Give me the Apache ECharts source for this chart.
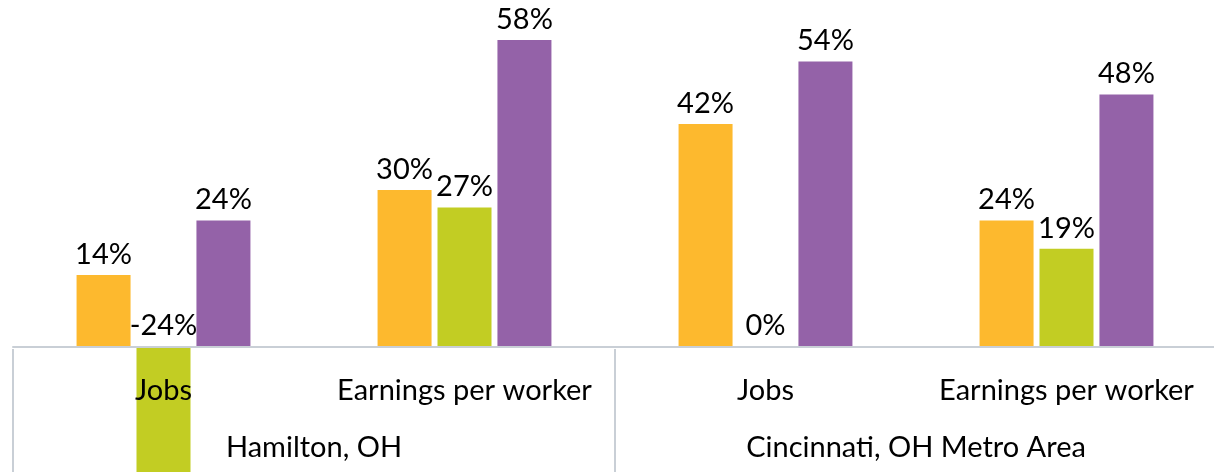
<!DOCTYPE html>
<html>
<head>
<meta charset="utf-8">
<script src="https://cdn.jsdelivr.net/npm/echarts@6/dist/echarts.min.js"></script>
<style>
  html, body { margin: 0; padding: 0; background: #fff; }
  #main { width: 1214px; height: 472px; }
</style>
</head>
<body>
<div id="main"></div>
<script>
// categories (two levels)
var measures = ['Jobs', 'Earnings per worker', 'Jobs', 'Earnings per worker'];
var areas = ['Hamilton, OH', 'Cincinnati, OH Metro Area'];

// series values, percent
var orangeVals = [13.6, 29.8, 42.4, 24.0];
var greenVals = [-24, 26.5, 0, 18.6];
var purpleVals = [24.0, 58.4, 54.3, 48.0];

var font = 'Lato';
var lineGray = '#c9cfd6';

var myChart = echarts.init(document.getElementById('main'));

function makeSeries(vals, color) {
    return {
        type: 'bar',
        data: vals,
        barWidth: 54,
        barGap: '11%',
        itemStyle: { color: color },
        label: {
            show: true,
            position: 'top',
            distance: 6,
            color: '#000',
            fontFamily: font,
            fontSize: 29,
            formatter: function (p) { return Math.round(p.value) + '%'; }
        }
    };
}

var option = {
    animation: false,
    grid: { left: 13, right: -3, top: 0, bottom: 0, containLabel: false, outerBoundsMode: 'none' },
    xAxis: [
        {
            type: 'category',
            data: measures,
            z: 5,
            axisLine: { onZero: true, lineStyle: { color: lineGray, width: 2 } },
            axisTick: { show: false },
            // labels sit inside the grid, in the band under the zero line
            axisLabel: { interval: 0, inside: true, margin: 67, color: '#000', fontFamily: font, fontSize: 29 }
        },
        {
            type: 'category',
            data: areas,
            position: 'bottom',
            z: 5,
            axisLine: { show: false, onZero: false },
            axisTick: { show: true, inside: true, length: 123, lineStyle: { color: lineGray, width: 2 } },
            axisLabel: { interval: 0, inside: true, margin: 10, color: '#000', fontFamily: font, fontSize: 29 }
        }
    ],
    yAxis: {
        type: 'value',
        min: -23.9,
        max: 66,
        show: false,
        splitLine: { show: false }
    },
    series: [
        makeSeries(orangeVals, '#fdb92e'),
        makeSeries(greenVals, '#c2cd23'),
        makeSeries(purpleVals, '#9462a8')
    ]
};

myChart.setOption(option);
</script>
</body>
</html>
